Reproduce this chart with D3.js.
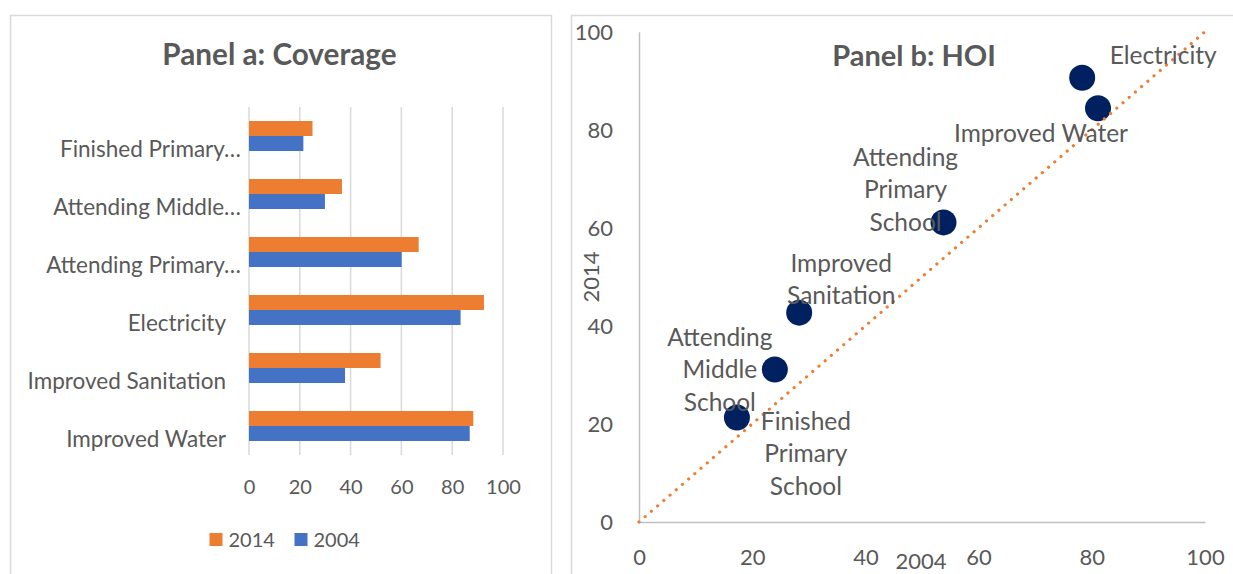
<!DOCTYPE html>
<html>
<head>
<meta charset="utf-8">
<script src="https://cdn.jsdelivr.net/npm/d3@7"></script>
<style>
  html, body { margin: 0; padding: 0; background: #ffffff; }
  svg { display: block; }
  text { font-family: Lato, "Open Sans", sans-serif; fill: #595959; }
</style>
</head>
<body>
<svg id="chart" width="1233" height="574"></svg>
<script>
// Panel a: coverage by opportunity (%)
const coverageCategories = ["Finished Primary…", "Attending Middle…", "Attending Primary…", "Electricity", "Improved Sanitation", "Improved Water"];
const coverage2014 = [25.0, 36.6, 66.8, 92.5, 51.8, 88.3];
const coverage2004 = [21.4, 29.9, 60.1, 83.3, 37.8, 86.9];
const coverageTicks = [0, 20, 40, 60, 80, 100];
const seriesNames = ["2014", "2004"];

// Panel b: Human Opportunity Index, 2004 vs 2014
const hoiNames = ["Electricity", "Improved Water", "Attending Primary School", "Improved Sanitation", "Attending Middle School", "Finished Primary School"];
const hoiLines = [["Electricity"], ["Improved Water"], ["Attending", "Primary", "School"], ["Improved", "Sanitation"], ["Attending", "Middle", "School"], ["Finished", "Primary", "School"]];
const hoi2004 = [78.3, 81.1, 53.8, 28.3, 24.0, 17.3];
const hoi2014 = [90.6, 84.4, 61.1, 42.7, 31.1, 21.3];
const hoiTicks = [0, 20, 40, 60, 80, 100];
const parityLine = [0, 100];

const ORANGE = "#ED7D31", BLUE = "#4472C4", NAVY = "#002060";
const GRID = "#d9d9d9", AXIS = "#bfbfbf";

const svg = d3.select("#chart");

// ---------- frames ----------
svg.append("rect").attr("x", 10.5).attr("y", 15.5).attr("width", 541).attr("height", 600)
  .attr("fill", "none").attr("stroke", GRID).attr("stroke-width", 1.5);
svg.append("rect").attr("x", 571.5).attr("y", 15.5).attr("width", 700).attr("height", 600)
  .attr("fill", "none").attr("stroke", GRID).attr("stroke-width", 1.5);

// ---------- Panel a ----------
const a = svg.append("g");
const ax = d3.scaleLinear().domain([0, 100]).range([249, 503]);
const ay = d3.scaleBand().domain(coverageCategories).range([107, 455]).padding(0);
const barH = 15;

a.append("text").attr("x", 279.5).attr("y", 65).attr("text-anchor", "middle")
  .style("font-weight", "bold").style("font-size", "29.7px").text("Panel a: Coverage");

// vertical gridlines
a.append("g").selectAll("line").data(coverageTicks).join("line")
  .attr("x1", d => ax(d)).attr("x2", d => ax(d))
  .attr("y1", ay.range()[0]).attr("y2", ay.range()[1])
  .attr("stroke", GRID).attr("stroke-width", 1.5);

// bars
const rows = coverageCategories.map((c, i) => ({ c, v14: coverage2014[i], v04: coverage2004[i] }));
const cy = d => ay(d.c) + ay.bandwidth() / 2;
a.append("g").selectAll("rect").data(rows).join("rect")
  .attr("x", ax(0)).attr("y", d => cy(d) - barH)
  .attr("width", d => ax(d.v14) - ax(0)).attr("height", barH).attr("fill", ORANGE);
a.append("g").selectAll("rect").data(rows).join("rect")
  .attr("x", ax(0)).attr("y", d => cy(d))
  .attr("width", d => ax(d.v04) - ax(0)).attr("height", barH).attr("fill", BLUE);

// category labels
a.append("g").selectAll("text").data(coverageCategories).join("text")
  .attr("x", d => ax(0) - (d.endsWith("…") ? 8 : 23))
  .attr("y", d => ay(d) + ay.bandwidth() / 2 + 13)
  .attr("dy", "0.35em").attr("text-anchor", "end")
  .style("font-size", "22.5px").text(d => d);

// x tick labels
const axA = d3.axisBottom(ax).tickValues(coverageTicks).tickSize(0).tickPadding(0);
const gA = a.append("g").attr("transform", "translate(0,487)").call(axA);
gA.select(".domain").remove();
gA.selectAll("text").attr("dy", "0.35em").attr("y", 0)
  .style("font-size", "20px").style("font-family", "Lato, sans-serif").attr("fill", "#595959");

// legend
const leg = a.append("g");
const legX = [209.5, 294.5];
seriesNames.forEach((s, i) => {
  leg.append("rect").attr("x", legX[i]).attr("y", 533).attr("width", 13).attr("height", 13)
    .attr("fill", i === 0 ? ORANGE : BLUE);
  leg.append("text").attr("x", legX[i] + 19).attr("y", 540).attr("dy", "0.35em")
    .style("font-size", "20px").text(s);
});

// ---------- Panel b ----------
const b = svg.append("g");
const bx = d3.scaleLinear().domain([0, 100]).range([639, 1205]);
const by = d3.scaleLinear().domain([0, 100]).range([522, 31.7]);

const axB = d3.axisBottom(bx).tickValues(hoiTicks).tickSize(0).tickPadding(0);
const gBx = b.append("g").attr("transform", `translate(0,${by(0)})`).call(axB);
gBx.select(".domain").attr("stroke", AXIS).attr("stroke-width", 1.5);
gBx.selectAll("text").attr("y", 35).attr("dy", "0.35em")
  .style("font-size", "22px").style("font-family", "Lato, sans-serif").attr("fill", "#595959");

const ayB = d3.axisLeft(by).tickValues(hoiTicks).tickSize(0).tickPadding(0);
const gBy = b.append("g").attr("transform", `translate(${bx(0)},0)`).call(ayB);
gBy.select(".domain").attr("stroke", AXIS).attr("stroke-width", 1.5);
gBy.selectAll("text").attr("x", -26).attr("dy", "0.35em")
  .style("font-size", "22px").style("font-family", "Lato, sans-serif").attr("fill", "#595959");

// axis titles
b.append("text").attr("x", 921).attr("y", 561).attr("dy", "0.35em").attr("text-anchor", "middle")
  .style("font-size", "22px").text("2004");
b.append("text").attr("transform", "translate(591,277) rotate(-90)").attr("dy", "0.35em")
  .attr("text-anchor", "middle").style("font-size", "22px").text("2014");

b.append("text").attr("x", 914).attr("y", 66).attr("text-anchor", "middle")
  .style("font-weight", "bold").style("font-size", "29px").text("Panel b: HOI");

// points
const pts = hoiNames.map((n, i) => ({ n, lines: hoiLines[i], x: hoi2004[i], y: hoi2014[i] }));
b.append("g").selectAll("circle").data(pts).join("circle")
  .attr("cx", d => bx(d.x)).attr("cy", d => by(d.y)).attr("r", 13).attr("fill", NAVY);

// 45-degree parity line
b.append("line")
  .attr("x1", bx(parityLine[0])).attr("y1", by(parityLine[0]))
  .attr("x2", bx(parityLine[1])).attr("y2", by(parityLine[1]))
  .attr("stroke", ORANGE).attr("stroke-width", 3.2)
  .attr("stroke-linecap", "round").attr("stroke-dasharray", "0.01 8.2");

// data labels, placed relative to each point (dx, dy of the label block centre)
const labelOffsets = [[81, -22], [-57, 25], [-38, -33], [42, -33], [-55, 0], [69, 36]];
const lineGap = 32.5;
const lbl = b.append("g");
pts.forEach((p, i) => {
  const [dx, dy] = labelOffsets[i];
  const n = p.lines.length;
  const t = lbl.append("text").attr("text-anchor", "middle").style("font-size", "24.5px");
  p.lines.forEach((ln, k) => {
    t.append("tspan").attr("x", bx(p.x) + dx)
      .attr("y", by(p.y) + dy + (k - (n - 1) / 2) * lineGap)
      .attr("dy", "0.35em").text(ln);
  });
});
</script>
</body>
</html>
